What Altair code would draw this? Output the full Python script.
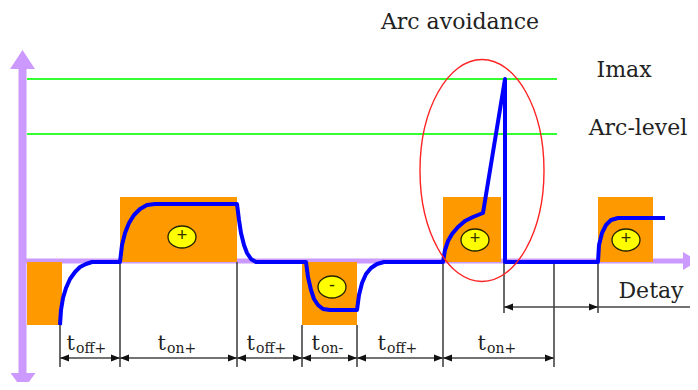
import altair as alt
import pandas as pd

# Diagram frame (pixel-like units of the picture)
X_DOMAIN = [8, 690]
Y_DOMAIN = [382, 8]

# Reference levels
level_names = ["Imax", "Arc-level"]
level_y = [79, 134]
level_x1 = [27, 27]
level_x2 = [557, 557]

# Axes (purple)
axis_x = [22.5, 22]
axis_x2 = [22.5, 686]
axis_y = [66, 261]
axis_y2 = [376, 261]
axis_head_x = [22.5, 23, 698]
axis_head_y = [50, 390, 261]
axis_head_shape = ["M0,0L1,1.52L-1,1.52Z", "M0,0L1,-1.36L-1,-1.36Z", "M0,0L-1.67,-1L-1.67,1Z"]
axis_head_size = [625, 625, 324]

# Pulses (orange blocks)
pulse_x1 = [27, 120, 302, 443, 598]
pulse_x2 = [62, 237, 357, 501, 653]
pulse_top = [262, 197, 262, 197, 197]
pulse_bottom = [325, 262, 325, 262, 262]

# Polarity markers
sign_x = [182, 332, 475, 626]
sign_y = [237, 287, 240, 240]
sign_text = ["+", "-", "+", "+"]

# Current waveform (blue)
wave_x = [60, 61, 63, 66, 70, 75, 80, 86, 92, 120,
          122, 125, 129, 134, 140, 147, 155, 237,
          239, 241, 244, 247, 251, 256, 306,
          308, 311, 314, 318, 323, 330, 357,
          359, 362, 366, 371, 377, 384, 443,
          445, 448, 452, 458, 465, 473, 483, 505, 505, 598,
          599, 602, 606, 611, 618, 665]
wave_y = [325, 310, 298, 288, 279, 272, 267, 264, 262, 262,
          245, 233, 223, 215, 209, 205, 204, 204,
          220, 233, 245, 253, 259, 262, 262,
          277, 290, 299, 305, 309, 310, 310,
          295, 283, 274, 268, 264, 262, 262,
          250, 241, 234, 227, 221, 217, 213, 79, 262, 262,
          245, 233, 225, 220, 218, 218]

# Dimension lines
tick_x = [60, 120, 237, 302, 357, 443, 554, 504, 598]
tick_y1 = [325, 262, 262, 325, 325, 262, 262, 262, 262]
tick_y2 = [367, 367, 367, 367, 367, 367, 367, 313, 313]
dim_x1 = [60, 504]
dim_x2 = [554, 690]
dim_y = [358, 307]
head_right_x = [120, 237, 302, 357, 443, 554, 598]
head_right_y = [358, 358, 358, 358, 358, 358, 307]
head_left_x = [60, 120, 237, 302, 357, 443, 504]
head_left_y = [358, 358, 358, 358, 358, 358, 307]

# Interval labels: t + subscript
interval_split_x = [75, 166, 255, 320, 386, 486]
interval_sub = ["off+", "on+", "off+", "on-", "off+", "on+"]

# Annotations
note_text = ["Arc avoidance", "Imax", "Arc-level", "Detay"]
note_x = [460, 624, 638, 651]
note_y = [29, 77, 135, 298]
note_size = [22, 22, 22, 22]

# Arc-avoidance ellipse
ring_x = [482]
ring_y = [170.5]


def X(f):
    return alt.X(f, type="quantitative", scale=alt.Scale(domain=X_DOMAIN, nice=False, zero=False), axis=None)


def Y(f):
    return alt.Y(f, type="quantitative", scale=alt.Scale(domain=Y_DOMAIN, nice=False, zero=False), axis=None)


SERIF = "DejaVu Serif"

levels = alt.Chart(pd.DataFrame({"x": level_x1, "x2": level_x2, "y": level_y, "n": level_names})).mark_rule(
    color="#33ff33", strokeWidth=2
).encode(x=X("x"), x2="x2", y=Y("y"))

axes_df = pd.DataFrame({"x": axis_x, "x2": axis_x2, "y": axis_y, "y2": axis_y2})
axis_v = alt.Chart(axes_df.iloc[[0]]).mark_rule(color="#cc99ff", strokeWidth=8).encode(
    x=X("x"), y=Y("y"), y2="y2")
axis_h = alt.Chart(axes_df.iloc[[1]]).mark_rule(color="#cc99ff", strokeWidth=5).encode(
    x=X("x"), x2="x2", y=Y("y"))

head_layers = []
for hx, hy, hs, hz in zip(axis_head_x, axis_head_y, axis_head_shape, axis_head_size):
    head_layers.append(
        alt.Chart(pd.DataFrame({"x": [hx], "y": [hy]})).mark_point(
            shape=hs, size=hz, filled=True, fill="#cc99ff", strokeWidth=0, opacity=1
        ).encode(x=X("x"), y=Y("y"))
    )

pulses = alt.Chart(pd.DataFrame({"x": pulse_x1, "x2": pulse_x2, "y": pulse_top, "y2": pulse_bottom})).mark_rect(
    color="#ff9900"
).encode(x=X("x"), x2="x2", y=Y("y"), y2="y2")

ticks = alt.Chart(pd.DataFrame({"x": tick_x, "y": tick_y1, "y2": tick_y2})).mark_rule(
    color="#444444", strokeWidth=1.6
).encode(x=X("x"), y=Y("y"), y2="y2")

dims = alt.Chart(pd.DataFrame({"x": dim_x1, "x2": dim_x2, "y": dim_y})).mark_rule(
    color="#444444", strokeWidth=1.6
).encode(x=X("x"), x2="x2", y=Y("y"))

heads_r = alt.Chart(pd.DataFrame({"x": head_right_x, "y": head_right_y})).mark_point(
    shape="M0,0L-1,-0.38L-1,0.38Z", size=324, filled=True, fill="#111111", strokeWidth=0, opacity=1
).encode(x=X("x"), y=Y("y"))
heads_l = alt.Chart(pd.DataFrame({"x": head_left_x, "y": head_left_y})).mark_point(
    shape="M0,0L1,-0.38L1,0.38Z", size=324, filled=True, fill="#111111", strokeWidth=0, opacity=1
).encode(x=X("x"), y=Y("y"))

wave = alt.Chart(pd.DataFrame({"i": list(range(len(wave_x))), "x": wave_x, "y": wave_y})).mark_line(
    color="#0000ff", strokeWidth=4, strokeJoin="round", strokeCap="butt"
).encode(x=X("x"), y=Y("y"), order="i:Q")

discs = alt.Chart(pd.DataFrame({"x": sign_x, "y": sign_y})).mark_point(
    shape="M-1,0A1,0.786,0,1,0,1,0A1,0.786,0,1,0,-1,0Z", size=784, filled=True,
    fill="#ffff00", stroke="#222200", strokeWidth=1.3, opacity=1
).encode(x=X("x"), y=Y("y"))

signs = alt.Chart(pd.DataFrame({"x": sign_x, "y": sign_y, "t": sign_text})).mark_text(
    font="Liberation Sans", fontSize=18, color="#333300", align="center", baseline="middle", dy=-1
).encode(x=X("x"), y=Y("y"), text="t:N")

ring = alt.Chart(pd.DataFrame({"x": ring_x, "y": ring_y})).mark_point(
    shape="M-0.5586,0A0.5586,1,0,1,0,0.5586,0A0.5586,1,0,1,0,-0.5586,0Z", size=49284,
    filled=False, stroke="#ff2222", strokeWidth=1.4, opacity=1
).encode(x=X("x"), y=Y("y"))

t_main = alt.Chart(pd.DataFrame({"x": interval_split_x, "y": [350] * len(interval_split_x), "t": ["t"] * len(interval_split_x)})).mark_text(
    font=SERIF, fontSize=21, color="#222222", align="right", baseline="alphabetic"
).encode(x=X("x"), y=Y("y"), text="t:N")

t_sub = alt.Chart(pd.DataFrame({"x": interval_split_x, "y": [353] * len(interval_split_x), "t": interval_sub})).mark_text(
    font=SERIF, fontSize=14, color="#222222", align="left", baseline="alphabetic", dx=1
).encode(x=X("x"), y=Y("y"), text="t:N")

notes = alt.Chart(pd.DataFrame({"x": note_x, "y": note_y, "t": note_text, "s": note_size})).mark_text(
    font=SERIF, color="#222222", align="center", baseline="alphabetic"
).encode(x=X("x"), y=Y("y"), text="t:N", size=alt.Size("s:Q", scale=None, legend=None))

chart = alt.layer(
    levels, axis_v, axis_h, *head_layers, pulses, ticks, dims, heads_r, heads_l,
    wave, discs, signs, ring, t_main, t_sub, notes
).properties(
    width=682, height=374, padding=0,
    autosize=alt.AutoSizeParams(type="none"),
    background="white",
).configure_view(stroke=None)

chart.save("out.html", embed_options={"renderer": "svg", "actions": False})
